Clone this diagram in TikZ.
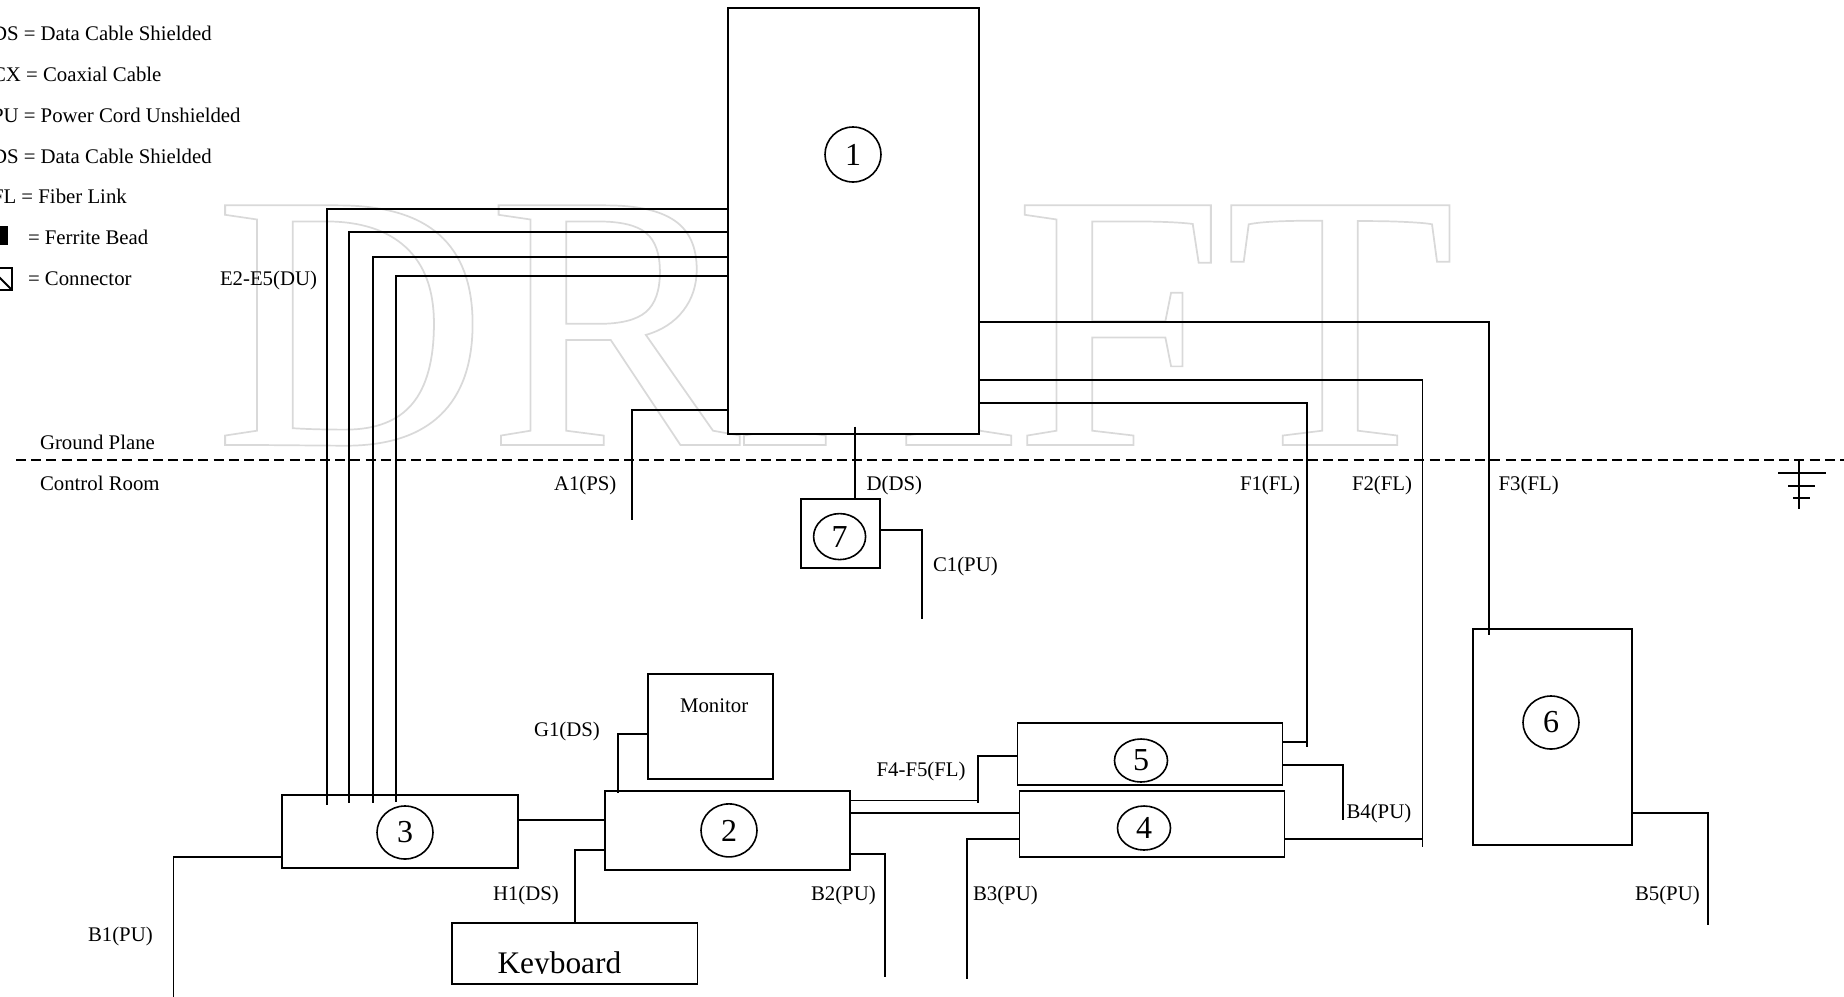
\documentclass[tikz,border=0pt]{standalone}
\usepackage{fontspec}
\setmainfont{Liberation Serif}
\tikzset{
  wire/.style={line width=1.8pt,black},
  unit/.style={draw=black,line width=1.8pt,inner sep=0pt,outer sep=0pt},
  badge/.style={ellipse,draw=black,line width=1.6pt,inner sep=0pt,outer sep=0pt,font=\fontsize{32}{36}\selectfont},
  lbl/.style={anchor=base west,inner sep=0pt,outer sep=0pt,font=\fontsize{20.8}{25}\selectfont},
  boundary/.style={line width=1.8pt,black,dash pattern=on 10pt off 5.2pt},
}
\usetikzlibrary{shapes.geometric}
\begin{document}
\begin{tikzpicture}[x=1pt,y=-1pt]
\useasboundingbox (0,0) rectangle (1844,996);
% watermark
\node[anchor=base west,inner sep=0pt,xscale=1.035,font=\fontsize{366}{370}\selectfont] (wm) at (214,445)
  {\special{pdf:code q 1 Tr 0.85 0.85 0.85 RG 1.7 w}DRAFT\special{pdf:code Q}};
% legend
\node[lbl] (l1) at (-8,40) {DS = Data Cable Shielded};
\node[lbl] (l2) at (-8,81) {CX = Coaxial Cable};
\node[lbl] (l3) at (-8,122) {PU = Power Cord Unshielded};
\node[lbl] (l4) at (-8,163) {DS = Data Cable Shielded};
\node[lbl] (l5) at (-8,203) {FL = Fiber Link};
\node[fill=black,inner sep=0pt,minimum width=18pt,minimum height=19pt] (bead) at (-1,235.5) {};
\node[lbl] (l6) at (28,244) {= Ferrite Bead};
\node[draw=black,line width=1.6pt,inner sep=0pt,outer sep=0pt,minimum width=22pt,minimum height=22pt] (conn) at (1,279) {};
\draw[wire] (conn.north west) -- (conn.south east);
\node[lbl] (l7) at (28,285) {= Connector};
% units
\node[unit,fill=white,minimum width=250.5pt,minimum height=426pt] (b1) at (853.5,221) {};
\node[badge,minimum width=56pt,minimum height=55pt] (c1) at (853,154.5) {1};
\node[unit,minimum width=79pt,minimum height=68.4pt] (b7) at (840.2,533.5) {};
\node[badge,minimum width=52pt,minimum height=46pt] (c7) at (839.6,536.6) {7};
\node[unit,minimum width=236pt,minimum height=73pt] (b3) at (400,831.5) {};
\node[badge,minimum width=56pt,minimum height=53pt] (c3) at (405,832.5) {3};
\node[unit,minimum width=244.6pt,minimum height=79.3pt] (b2) at (727.3,830.4) {};
\node[badge,minimum width=56pt,minimum height=53pt] (c2) at (729,830.4) {2};
\node[unit,minimum width=124.7pt,minimum height=104.7pt] (mon) at (710.3,726.3) {};
\node[lbl] (mont) at (680,712) {Monitor};
\node[unit,minimum width=245.5pt,minimum height=60.7pt] (kb) at (574.7,953.3) {};
\begin{scope}
\clip (452,923) rectangle (697,973.6);
\node[lbl,font=\fontsize{31.4}{36}\selectfont] (kbt) at (497.5,973) {Keyboard};
\end{scope}
\node[unit,minimum width=265pt,minimum height=62pt] (b5) at (1150,754) {};
\node[badge,minimum width=53pt,minimum height=43pt] (c5) at (1141,760.5) {5};
\node[unit,minimum width=265pt,minimum height=66pt] (b4) at (1152,824) {};
\node[badge,minimum width=53pt,minimum height=44pt] (c4) at (1144,828) {4};
\node[unit,minimum width=159.3pt,minimum height=215.7pt] (b6) at (1552.4,736.9) {};
\node[badge,minimum width=56pt,minimum height=53pt] (c6) at (1551,722.5) {6};
% free ends
\coordinate (e1) at (326.6,805);
\coordinate (e2) at (349,803);
\coordinate (e3) at (373,803);
\coordinate (e4) at (395.7,802);
\coordinate (a1) at (632,520);
\coordinate (dtop) at (854.7,426.7);
\coordinate (cend) at (922.3,618.7);
\coordinate (f1) at (1306.6,747);
\coordinate (f2) at (1422.4,847);
\coordinate (f3) at (1489,634.7);
\coordinate (f45) at (978,803);
\coordinate (bb1) at (173.4,997);
\coordinate (bb2) at (884.6,977);
\coordinate (bb3) at (966.7,979);
\coordinate (bb4) at (1342.7,820);
\coordinate (bb5) at (1708,925);
\coordinate (g1) at (617.7,792.7);
\coordinate (h1) at (575,923);
\coordinate (dl) at (16,460.3);
\coordinate (dr) at (1844,460.3);
\coordinate (gt) at (1799,460.3);
\coordinate (gb) at (1799,509);
% connectors
\draw[wire] (b1.west |- 0,208.7) -| (e1);
\draw[wire] (b1.west |- 0,232) -| (e2);
\draw[wire] (b1.west |- 0,256.7) -| (e3);
\draw[wire] (b1.west |- 0,276.3) -| (e4);
\draw[wire] (b1.west |- 0,410) -| (a1);
\draw[wire] (dtop) -- (dtop |- b7.north);
\draw[wire] (b7.east |- 0,530.3) -| (cend);
\draw[wire] (b1.east |- 0,322.3) -| (f3);
\draw[wire] (b1.east |- 0,380) -| (f2);
\draw[wire] (b1.east |- 0,403) -| (f1);
\draw[wire] (b5.east |- 0,741.7) -- (f1 |- 0,741.7);
\draw[wire] (b4.east |- 0,838.7) -- (f2 |- 0,838.7);
\draw[wire] (b5.east |- 0,765) -| (bb4);
\draw[wire] (b5.west |- 0,755.7) -| (f45);
\draw[wire] (b2.east |- 0,800.5) -| (f45);
\draw[wire] (b2.east |- 0,813) -- (b4.west |- 0,813);
\draw[wire] (b4.west |- 0,838.7) -| (bb3);
\draw[wire] (b2.east |- 0,853.7) -| (bb2);
\draw[wire] (b3.east |- 0,820) -- (b2.west |- 0,820);
\draw[wire] (b3.west |- 0,857) -| (bb1);
\draw[wire] (mon.west |- 0,734) -| (g1);
\draw[wire] (b2.west |- 0,850) -| (h1);
\draw[wire] (b6.east |- 0,812.7) -| (bb5);
% ground plane and symbol
\draw[boundary] (dl) -- (dr);
\draw[wire] (gt) -- (gb);
\coordinate (ga1) at (1778,473); \coordinate (ga2) at (1826,473);
\coordinate (gb1) at (1788,485.7); \coordinate (gb2) at (1815,485.7);
\coordinate (gc1) at (1793.4,498); \coordinate (gc2) at (1809.5,498);
\draw[wire] (ga1) -- (ga2);
\draw[wire] (gb1) -- (gb2);
\draw[wire] (gc1) -- (gc2);
% labels
\node[lbl] (t1) at (220,285) {E2-E5(DU)};
\node[lbl] (t2) at (40,449) {Ground Plane};
\node[lbl] (t3) at (40,490) {Control Room};
\node[lbl] (t4) at (554,490) {A1(PS)};
\node[lbl] (t5) at (866.7,490) {D(DS)};
\node[lbl] (t6) at (933,571.7) {C1(PU)};
\node[lbl] (t7) at (1240,490) {F1(FL)};
\node[lbl] (t8) at (1352,490) {F2(FL)};
\node[lbl] (t9) at (1498.6,490) {F3(FL)};
\node[lbl] (t10) at (534,736.7) {G1(DS)};
\node[lbl] (t11) at (876.6,776.7) {F4-F5(FL)};
\node[lbl] (t12) at (1346.5,818) {B4(PU)};
\node[lbl] (t13) at (493,900) {H1(DS)};
\node[lbl] (t14) at (811,900) {B2(PU)};
\node[lbl] (t15) at (973,900) {B3(PU)};
\node[lbl] (t16) at (1635,900) {B5(PU)};
\node[lbl] (t17) at (88,941.7) {B1(PU)};
\end{tikzpicture}
\end{document}
